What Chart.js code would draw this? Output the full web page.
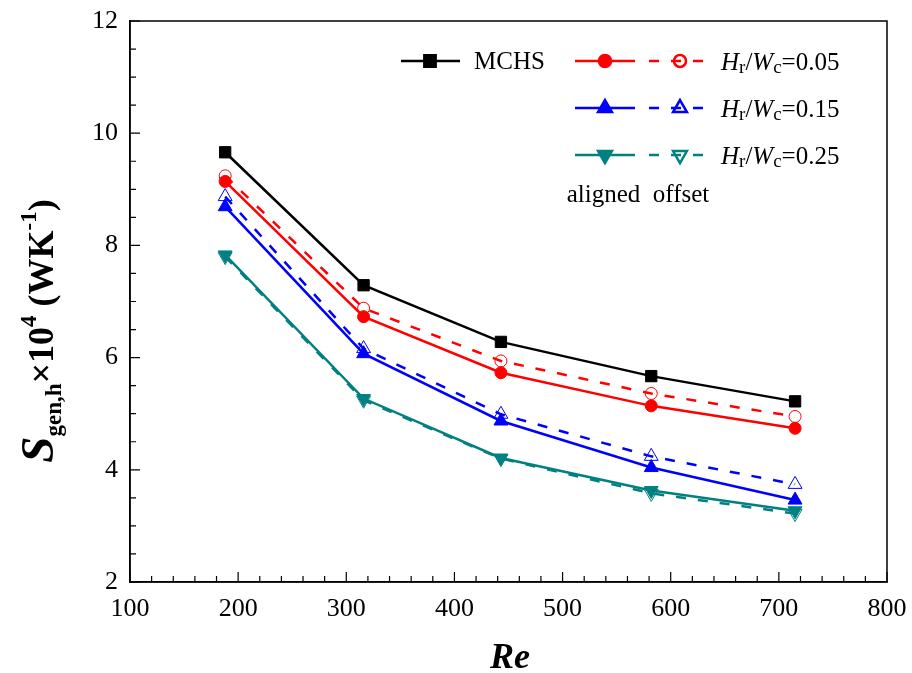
<!DOCTYPE html>
<html>
<head>
<meta charset="utf-8">
<script src="https://cdn.jsdelivr.net/npm/chart.js@4"></script>
<style>
  html, body { margin: 0; padding: 0; background: #fff; }
  #wrap { width: 912px; height: 673px; }
</style>
</head>
<body>
<div id="wrap"><canvas id="myChart" width="912" height="673"></canvas></div>
<script>
// Re values and S_gen,h x10^4
const re = [188, 316, 443, 582, 715];
const mchs = [9.66, 7.29, 6.28, 5.67, 5.22];
const aligned05 = [9.14, 6.73, 5.73, 5.14, 4.74];
const offset05 = [9.24, 6.88, 5.94, 5.36, 4.95];
const aligned15 = [8.69, 6.07, 4.87, 4.04, 3.46];
const offset15 = [8.87, 6.16, 4.99, 4.24, 3.74];
const aligned25 = [7.83, 5.27, 4.21, 3.63, 3.27];
const offset25 = [7.80, 5.24, 4.20, 3.58, 3.22];
const ratios = ['0.05', '0.15', '0.25'];

const RED = '#ff0000', BLUE = '#0000ff', TEAL = '#008080';
const SERIF = '"Liberation Serif", "Times New Roman", serif';

function pts(ys) { return ys.map((y, i) => ({x: re[i], y: y})); }

function solid(label, ys, color, style, rot, r) {
  return {
    label: label, data: pts(ys), borderColor: color, backgroundColor: color,
    borderWidth: 2.5, pointStyle: style, pointRotation: rot, pointRadius: r,
    pointBackgroundColor: color, pointBorderColor: color, pointBorderWidth: 1
  };
}
function dashed(label, ys, color, style, rot, r) {
  return {
    label: label, data: pts(ys), borderColor: color, backgroundColor: color,
    borderWidth: 2.5, borderDash: [10, 12], pointStyle: style, pointRotation: rot,
    pointRadius: r, pointBackgroundColor: 'rgba(0,0,0,0)', pointBorderColor: color,
    pointBorderWidth: 1
  };
}

// frame, inward ticks, axis titles and legend
const extras = {
  id: 'extras',
  afterDraw(chart) {
    const ctx = chart.ctx, a = chart.chartArea;
    const xs = chart.scales.x, ys = chart.scales.y;
    ctx.save();
    ctx.strokeStyle = '#000';
    ctx.lineWidth = 1.5;
    ctx.strokeRect(a.left, a.top, a.right - a.left, a.bottom - a.top);
    ctx.lineWidth = 1.2;
    ctx.beginPath();
    for (let v = 100; v <= 800; v += 20) {
      const px = xs.getPixelForValue(v);
      const len = (v % 100 === 0) ? 10 : 6;
      ctx.moveTo(px, a.bottom); ctx.lineTo(px, a.bottom - len);
    }
    for (let v = 2; v <= 12; v += 0.5) {
      const py = ys.getPixelForValue(v);
      const len = (Math.abs(v % 2) < 1e-6) ? 10 : 6;
      ctx.moveTo(a.left, py); ctx.lineTo(a.left + len, py);
    }
    ctx.stroke();

    // x title
    ctx.fillStyle = '#000';
    ctx.textAlign = 'center';
    ctx.textBaseline = 'alphabetic';
    ctx.font = 'italic bold 36px ' + SERIF;
    ctx.fillText('Re', 510, 668);

    // y title, rotated
    const parts = [
      {t: 'S', f: 'italic bold 47px ', dy: 0},
      {t: 'gen,h', f: 'bold 23px ', dy: 8},
      {t: '×10', f: 'bold 36px ', dy: 0},
      {t: '4', f: 'bold 23px ', dy: -17},
      {t: ' (WK', f: 'bold 36px ', dy: 0},
      {t: '-1', f: 'bold 23px ', dy: -17},
      {t: ')', f: 'bold 36px ', dy: 0}
    ];
    let total = 0;
    parts.forEach(p => { ctx.font = p.f + SERIF; p.w = ctx.measureText(p.t).width; total += p.w; });
    ctx.translate(53, 331);
    ctx.rotate(-Math.PI / 2);
    ctx.textAlign = 'left';
    let cx = -total / 2;
    parts.forEach(p => { ctx.font = p.f + SERIF; ctx.fillText(p.t, cx, p.dy); cx += p.w; });
    ctx.restore();

    // legend
    ctx.save();
    const drawMark = (x, y, color, style, rot, r, filled) => {
      ctx.fillStyle = filled ? color : 'rgba(0,0,0,0)';
      ctx.strokeStyle = color;
      Chart.helpers.drawPoint(ctx, {pointStyle: style, rotation: rot, radius: r, borderWidth: 1}, x, y);
    };
    const seg = (x1, x2, y, color, dash) => {
      ctx.strokeStyle = color; ctx.lineWidth = 2.5;
      ctx.setLineDash(dash);
      ctx.beginPath(); ctx.moveTo(x1, y); ctx.lineTo(x2, y); ctx.stroke();
      ctx.setLineDash([]);
    };
    seg(401, 460, 61, '#000', []);
    drawMark(430, 61, '#000', 'rect', 0, 8, true);
    ctx.fillStyle = '#000';
    ctx.font = '25px ' + SERIF;
    ctx.textBaseline = 'middle';
    ctx.fillText('MCHS', 474, 62);

    const rows = [
      {y: 61, c: RED, s: 'circle', rot: 0, r: 6},
      {y: 108, c: BLUE, s: 'triangle', rot: 0, r: 8},
      {y: 155, c: TEAL, s: 'triangle', rot: 180, r: 8}
    ];
    rows.forEach((row, i) => {
      seg(575, 635, row.y, row.c, []);
      drawMark(605, row.y, row.c, row.s, row.rot, row.r, true);
      seg(649, 713, row.y, row.c, [10, 12]);
      drawMark(680, row.y, row.c, row.s, row.rot, row.r, false);
      let tx = 721;
      const ty = row.y + 9;
      ctx.fillStyle = '#000';
      ctx.textBaseline = 'alphabetic';
      const bits = [
        {t: 'H', f: 'italic 25px ', dy: 0},
        {t: 'r', f: '19px ', dy: 3},
        {t: '/', f: '25px ', dy: 0},
        {t: 'W', f: 'italic 25px ', dy: 0},
        {t: 'c', f: '19px ', dy: 3},
        {t: '=' + ratios[i], f: '25px ', dy: 0}
      ];
      bits.forEach(b => { ctx.font = b.f + SERIF; ctx.fillText(b.t, tx, ty + b.dy); tx += ctx.measureText(b.t).width; });
    });
    ctx.font = '25px ' + SERIF;
    ctx.textAlign = 'center';
    ctx.textBaseline = 'middle';
    ctx.fillText('aligned  offset', 638, 195);
    ctx.restore();
  }
};

const ctx = document.getElementById('myChart').getContext('2d');
const myChart = new Chart(ctx, {
  type: 'line',
  data: {
    datasets: [
      solid('MCHS', mchs, '#000', 'rect', 0, 8),
      solid('aligned 0.05', aligned05, RED, 'circle', 0, 6),
      dashed('offset 0.05', offset05, RED, 'circle', 0, 6),
      solid('aligned 0.15', aligned15, BLUE, 'triangle', 0, 8),
      dashed('offset 0.15', offset15, BLUE, 'triangle', 0, 8),
      solid('aligned 0.25', aligned25, TEAL, 'triangle', 180, 8),
      dashed('offset 0.25', offset25, TEAL, 'triangle', 180, 8)
    ]
  },
  options: {
    responsive: false,
    animation: false,
    layout: {padding: {top: 21, right: 25, left: 0, bottom: 0}},
    plugins: {legend: {display: false}, tooltip: {enabled: false}},
    elements: {line: {tension: 0}},
    scales: {
      x: {
        type: 'linear', min: 100, max: 800,
        grid: {display: false, drawTicks: false},
        border: {display: true, color: '#000', width: 1.5},
        ticks: {stepSize: 100, padding: 12, color: '#000', maxRotation: 0,
          font: {family: SERIF, size: 26}},
        afterFit: s => { s.height = 91; s.paddingLeft = 0; s.paddingRight = 0; }
      },
      y: {
        type: 'linear', min: 2, max: 12,
        grid: {display: false, drawTicks: false},
        border: {display: true, color: '#000', width: 1.5},
        ticks: {stepSize: 2, padding: 12, color: '#000',
          font: {family: SERIF, size: 26}},
        afterFit: s => { s.width = 130; s.paddingTop = 0; s.paddingBottom = 0; }
      }
    }
  },
  plugins: [extras]
});
</script>
</body>
</html>
